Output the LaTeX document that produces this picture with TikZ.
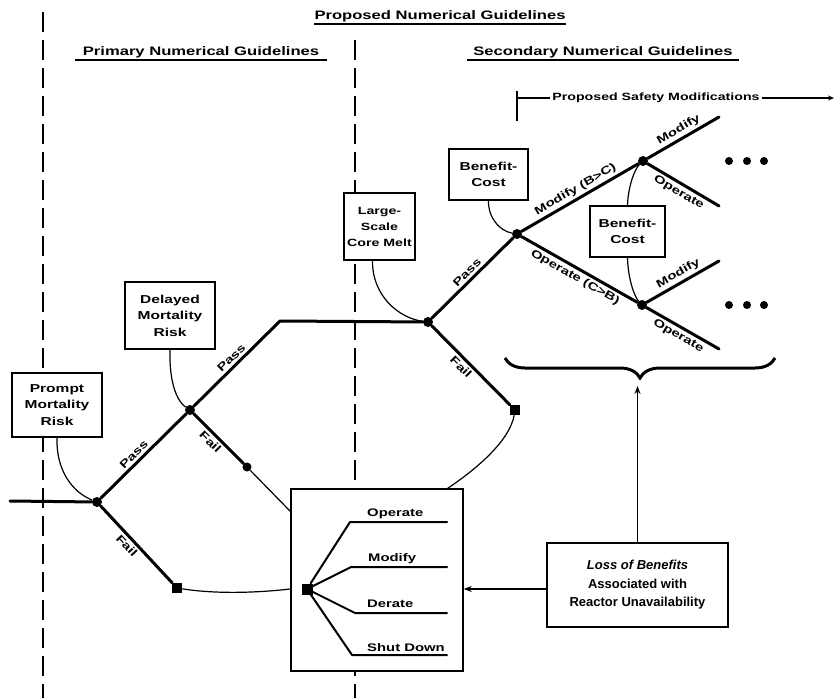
\documentclass[tikz,border=0pt]{standalone}
\usepackage{fontspec}
\usetikzlibrary{arrows.meta,decorations.pathreplacing}
\newfontfamily\hv[FakeStretch=1.35]{Liberation Sans}
\newfontfamily\hvn{Liberation Sans}
\begin{document}
\begin{tikzpicture}[x=1pt,y=-1pt,
  tree/.style={line width=3pt, line cap=round, line join=round},
  tree2/.style={line width=2pt, line cap=round, line join=round},
  thinl/.style={line width=1.2pt},
  box/.style={draw, line width=1.5pt, fill=white, align=center, inner sep=0pt,
    font=\hv\bfseries\fontsize{11.5}{16.5}\selectfont},
  dot/.style={circle, fill=black, inner sep=0pt, minimum size=10pt},
  sq/.style={rectangle, fill=black, inner sep=0pt, minimum size=10pt},
  lab/.style={font=\hv\bfseries\fontsize{11}{13}\selectfont, sloped, inner sep=2.5pt},
  head/.style={font=\hv\bfseries\fontsize{12.3}{14}\selectfont, inner sep=0pt, anchor=base},
  guide/.style={line width=2.2pt, dash pattern=on 20pt off 8pt},
  opt/.style={font=\hv\bfseries\fontsize{11}{13}\selectfont, inner sep=0pt, anchor=base west},
  ell/.style={circle, fill=black, inner sep=0pt, minimum size=8pt},
  uline/.style={line width=1.3pt},
  tip/.style={-{Stealth[length=8pt,width=6pt]}}
]
\useasboundingbox (0,0) rectangle (837,698);

% guide lines
\coordinate (gLt) at (43,12);
\coordinate (gLb) at (43,698);
\coordinate (gMt) at (355,40);
\coordinate (gMb) at (355,698);
\draw[guide] (gLt) -- (gLb);
\draw[guide] (gMt) -- (gMb);

% headers
\node[head] (h0) at (440,20) {Proposed Numerical Guidelines};
\draw[uline] ([yshift=-4pt]h0.base west) -- ([yshift=-4pt]h0.base east);
\node[head] (h1) at (201,56) {Primary Numerical Guidelines};
\draw[uline] ([xshift=-8pt,yshift=-4pt]h1.base west) -- ([xshift=8pt,yshift=-4pt]h1.base east);
\node[head] (h2) at (603,56) {Secondary Numerical Guidelines};
\draw[uline] ([xshift=-6pt,yshift=-4pt]h2.base west) -- ([xshift=6pt,yshift=-4pt]h2.base east);

% proposed safety modifications
\node[font=\hv\bfseries\fontsize{10.5}{12}\selectfont, inner sep=2pt] (psm) at (656,98) {Proposed Safety Modifications};
\coordinate (psmL) at (517,98);
\coordinate (psmR) at (834,98);
\coordinate (barT) at (517,91);
\coordinate (barB) at (517,121);
\draw[line width=1.6pt] (barT) -- (barB);
\draw[line width=1.4pt] (psmL) -- (psm.west);
\draw[line width=1.4pt, -{Stealth[length=6pt,width=5pt]}] (psm.east) -- (psmR);

% boxes
\node[box, minimum width=90pt, minimum height=64pt] (pm) at (57,405) {Prompt\\Mortality\\Risk};
\node[box, minimum width=90pt, minimum height=67pt] (dm) at (170,315.5) {Delayed\\Mortality\\Risk};
\node[box, minimum width=71pt, minimum height=67pt, font=\hv\bfseries\fontsize{10.5}{16}\selectfont] (lm) at (379.5,226.5) {Large-\\Scale\\Core Melt};
\node[box, minimum width=79pt, minimum height=51pt] (bc1) at (488.5,174.5) {Benefit-\\Cost};
\node[box, minimum width=75pt, minimum height=51pt] (bc2) at (627.5,231.5) {Benefit-\\Cost};
\node[box, minimum width=172pt, minimum height=182pt] (cb) at (377,580) {};
\node[box, minimum width=181pt, minimum height=84pt, font=\hvn\bfseries\fontsize{13}{18.5}\selectfont] (loss) at (637.5,585) {{\itshape Loss of Benefits}\\Associated with\\Reactor Unavailability};

% tree nodes
\coordinate (s0) at (10,501);
\node[dot] (n1) at (97,502) {};
\node[dot] (n2) at (190,410) {};
\coordinate (c1) at (280,321);
\node[dot] (n3) at (428,322) {};
\node[dot] (n4) at (517,234) {};
\node[dot] (n5) at (643,161) {};
\node[dot] (n6) at (642,305) {};
\node[sq] (f1) at (177,588) {};
\node[dot, minimum size=9pt] (f2) at (247,467) {};
\node[sq] (f3) at (515,410) {};
\coordinate (m5) at (719,117);
\coordinate (o5) at (719,206);
\coordinate (m6) at (719,261);
\coordinate (o6) at (719,349);

\draw[tree] (s0) -- (n1);
\draw[tree] (n1) -- node[lab, above, pos=0.45] {Pass} (n2);
\draw[tree] (n1) -- node[lab, below, pos=0.45] {Fail} (f1);
\draw[tree] (n2) -- node[lab, above, pos=0.5] {Pass} (c1) -- (n3);
\draw[tree] (n2) -- node[lab, below, pos=0.45] {Fail} (f2);
\draw[tree] (n3) -- node[lab, above, pos=0.5] {Pass} (n4);
\draw[tree] (n3) -- node[lab, below, pos=0.45] {Fail} (f3);
\draw[tree] (n4) -- node[lab, above, pos=0.5] {Modify (B>C)} (n5);
\draw[tree] (n4) -- node[lab, below, pos=0.5] {Operate (C>B)} (n6);
\draw[tree] (n5) -- node[lab, above, pos=0.5] {Modify} (m5);
\draw[tree] (n5) -- node[lab, below, pos=0.5] {Operate} (o5);
\draw[tree] (n6) -- node[lab, above, pos=0.5] {Modify} (m6);
\draw[tree] (n6) -- node[lab, below, pos=0.5] {Operate} (o6);

% arcs from boxes to decision points
\draw[thinl] (pm.south) .. controls (56,470) and (72,492) .. (n1);
\draw[thinl] (dm.south) .. controls (169,385) and (178,402) .. (n2);
\draw[thinl] ([xshift=-7pt]lm.south) .. controls (372,295) and (398,318) .. (n3);
\draw[thinl] (bc1.south) .. controls (488,218) and (500,231) .. (n4);
\draw[thinl] (bc2.north) .. controls (628,188) and (634,170) .. (n5);
\draw[thinl] (bc2.south) .. controls (628,278) and (634,296) .. (n6);

% fail connectors to centre box
\node[sq, minimum size=11pt] (root) at (307,589) {};
\draw[thinl] (f1) .. controls (215,594) and (255,593) .. (cb.west |- root);
\draw[thinl] (f2) -- ([yshift=-23pt]cb.north west);
\draw[thinl] (f3) .. controls (510,440) and (478,468) .. ([xshift=-16pt]cb.north east);

% centre box contents
\coordinate (b1) at (350,522); \coordinate (e1) at (447,522);
\coordinate (b2) at (351,567); \coordinate (e2) at (447,567);
\coordinate (b3) at (355,613); \coordinate (e3) at (447,613);
\coordinate (b4) at (352,655); \coordinate (e4) at (447,655);
\draw[tree2] (root) -- (b1) -- (e1);
\draw[tree2] (root) -- (b2) -- (e2);
\draw[tree2] (root) -- (b3) -- (e3);
\draw[tree2] (root) -- (b4) -- (e4);
\node[opt] (t1) at (367,516) {Operate};
\node[opt] (t2) at (368,561) {Modify};
\node[opt] (t3) at (367,607) {Derate};
\node[opt] (t4) at (367,651) {Shut Down};

% ellipses
\node[ell] (d1) at (729,161) {};
\node[ell] (d2) at (747,161) {};
\node[ell] (d3) at (764,161) {};
\node[ell] (d4) at (729,305) {};
\node[ell] (d5) at (747,305) {};
\node[ell] (d6) at (764,305) {};

% brace and arrows
\coordinate (brL) at (505,358);
\coordinate (brR) at (775,358);
\coordinate (bt) at (637.5,386);
\draw[line width=3pt, decorate, decoration={brace, amplitude=20pt, mirror}] (brL) -- (brR);
\draw[line width=1.4pt, tip] (loss.north) -- (bt);
\draw[line width=1.8pt, tip] (loss.west |- root) -- (cb.east |- root);
\end{tikzpicture}
\end{document}
